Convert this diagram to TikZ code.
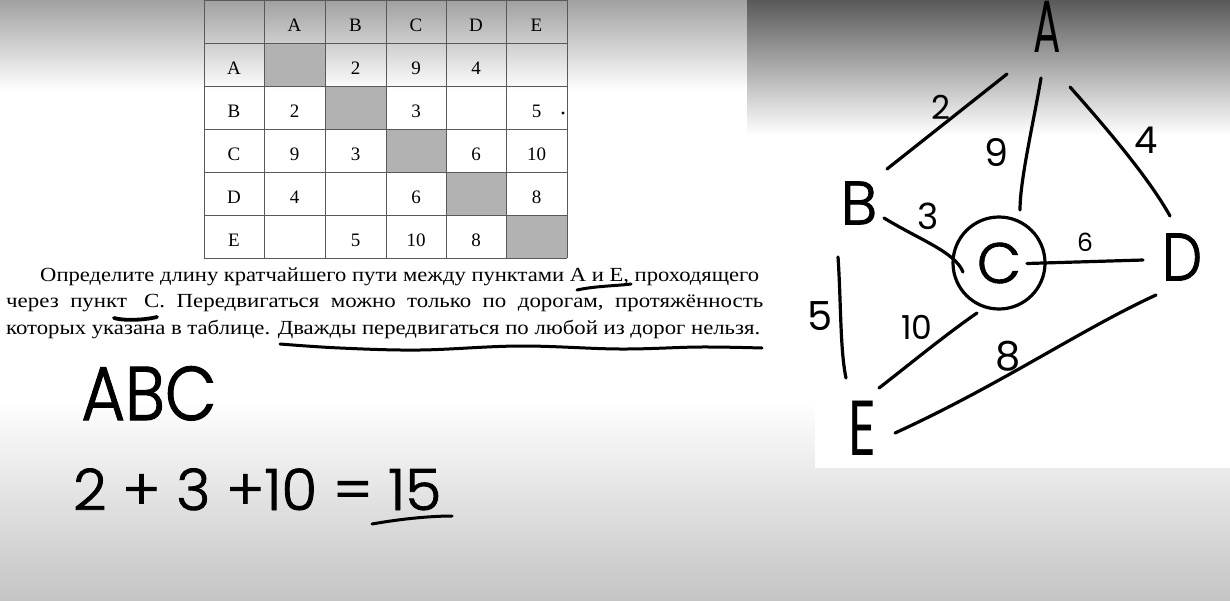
\documentclass[tikz,border=0pt]{standalone}
\usepackage{fontspec}
\usepackage{graphicx}
\setmainfont{Liberation Serif}
\newfontfamily\rutext{Liberation Serif}
\newfontfamily\hand[FakeBold=1.5]{Poppins Light}
\newfontfamily\handr{Poppins}
\newcommand\hsz[1]{\fontsize{#1}{#1}\selectfont}
\newcommand\fitline[2]{\resizebox{#1}{\height}{#2}}
\begin{document}
\begin{tikzpicture}[x=1pt,y=-1pt,
  tline/.style={draw=black!65, line width=1pt},
  gcell/.style={fill=black!30},
  cell/.style={font=\hsz{19}, inner sep=0pt},
  body/.style={font=\rutext\hsz{20}, anchor=base west, inner sep=0pt},
  pen/.style={line width=3.2pt, line cap=round, line join=round, black},
  ink/.style={line width=3pt, line cap=round, black},
  hw/.style={inner sep=0pt, font=\hand},
  wt/.style={inner sep=0pt},
]
\useasboundingbox (0,0) rectangle (1230,600);
% backgrounds
\fill[white] (0,0) rectangle (1230,600);
\shade[top color=black!37, bottom color=white] (0,0) rectangle (747,90);
\shade[top color=black!65, bottom color=white] (747,0) rectangle (1230,135);
\shade[top color=white, bottom color=black!23] (0,400) rectangle (1230,600);
\fill[white] (815,135) rectangle (1230,468);

% table
\fill[gcell] (264,43) rectangle (325,86);
\fill[gcell] (325,86) rectangle (386,129);
\fill[gcell] (386,129) rectangle (446,172);
\fill[gcell] (446,172) rectangle (506,215);
\fill[gcell] (506,215) rectangle (567,258);
\foreach \x in {204,264,325,386,446,506,567} \draw[tline] (\x,0) -- (\x,258);
\foreach \y in {0.5,43,86,129,172,215,258} \draw[tline] (204,\y) -- (567,\y);
\foreach \n/\x/\y/\t in {hA/294.5/25.5/A, hB/355.5/25.5/B, hC/416/25.5/C, hD/476/25.5/D, hE/536.5/25.5/E,
  rA/234/68.5/A, rB/234/111.5/B, rC/234/154.5/C, rD/234/197.5/D, rE/234/240.5/E,
  tAB/355.5/68.5/2, tAC/416/68.5/9, tAD/476/68.5/4,
  tBA/294.5/111.5/2, tBC/416/111.5/3, tBE/536.5/111.5/5,
  tCA/294.5/154.5/9, tCB/355.5/154.5/3, tCD/476/154.5/6, tCE/536.5/154.5/10,
  tDA/294.5/197.5/4, tDC/416/197.5/6, tDE/536.5/197.5/8,
  tEB/355.5/240.5/5, tEC/416/240.5/10, tED/476/240.5/8}
  \node[cell] (\n) at (\x,\y) {\t};
\fill (563,113) circle (1.6);

% task text
\node[body] (l1) at (40,281) {\fitline{719pt}{Определите длину кратчайшего пути между пунктами А и Е, проходящего}};
\node[body] (l2) at (6,307.5) {\fitline{757pt}{через\ \ пункт\ \ \ С.\ \ Передвигаться\ \ можно\ \ только\ \ по\ \ дорогам,\ \ протяжённость}};
\node[body] (l3) at (6,334) {\fitline{754pt}{которых указана в таблице. Дважды передвигаться по любой из дорог нельзя.}};
\draw[ink] (577,290) .. controls (595,286) and (615,286) .. (631,284);
\draw[ink, line width=3.8pt] (114,318) .. controls (124,321) and (145,320) .. (157,317);
\draw[ink] plot[smooth, tension=0.6] coordinates {(280,344) (340,348) (420,350) (520,346) (620,349) (700,347) (762,348)};

% handwritten solution
\node[hw, font=\hand\hsz{76}, anchor=base] (abc) at (149,420) {\scalebox{0.88}[1]{ABC}};
\node[hw, font=\hand\hsz{57}, anchor=base west] (sum) at (73,510) {\scalebox{1.02}[1]{2 + 3 +10 = 15}};
\draw[ink] (372,524) .. controls (400,519) and (430,516) .. (452,516);

% graph
\node[hw, font=\handr\hsz{74}] (A) at (1047,27) {\scalebox{0.55}[1]{A}};
\node[hw, font=\hand\hsz{61}] (B) at (859,203) {B};
\node[draw, circle, line width=3.2pt, minimum size=92pt, inner sep=0pt, font=\hand\hsz{57}] (C) at (999,263) {C};
\node[hw, font=\hand\hsz{67}] (D) at (1182,257) {\scalebox{0.85}[1]{D}};
\node[hw, font=\handr\hsz{78}] (E) at (862,428) {\scalebox{0.7}[1]{E}};

\coordinate (ab1) at (1007,74);  \coordinate (ab2) at (887,169);
\coordinate (ac1) at (1041,78);  \coordinate (ac2) at (1020,210);
\coordinate (ad1) at (1070,87);  \coordinate (ad2) at (1170,216);
\coordinate (bc1) at (884,218);  \coordinate (bc2) at (963,272);
\coordinate (cd1) at (1027,263.5); \coordinate (cd2) at (1143,260);
\coordinate (be1) at (838,257);  \coordinate (be2) at (846,378);
\coordinate (ce1) at (977,313);  \coordinate (ce2) at (879,388);
\coordinate (de1) at (1156,295); \coordinate (de2) at (895,433);

\draw[pen] (ab1) -- (ab2);
\draw[pen] (ac1) .. controls (1033,125) and (1020,180) .. (ac2);
\draw[pen] (ad1) .. controls (1110,132) and (1150,180) .. (ad2);
\draw[pen] (bc1) .. controls (920,240) and (955,252) .. (bc2);
\draw[pen] (cd1) -- (cd2);
\draw[pen] (be1) .. controls (841,300) and (840,350) .. (be2);
\draw[pen] (ce1) .. controls (945,335) and (905,368) .. (ce2);
\draw[pen] (de1) .. controls (1080,330) and (1000,385) .. (de2);

\node[wt, font=\handr\hsz{33}] (w2) at (941,107) {2};
\node[wt, font=\handr\hsz{38}] (w9) at (996,153) {9};
\node[wt, font=\handr\hsz{37}] (w4) at (1146,140) {4};
\node[wt, font=\handr\hsz{36}] (w3) at (928,216) {3};
\node[wt, font=\handr\hsz{25}] (w6) at (1085,242) {6};
\node[wt, font=\handr\hsz{40}] (w5) at (820,316) {5};
\node[wt, font=\handr\hsz{33}] (w10) at (917,327) {10};
\node[wt, font=\handr\hsz{40}] (w8) at (1008,356) {8};
\end{tikzpicture}
\end{document}
